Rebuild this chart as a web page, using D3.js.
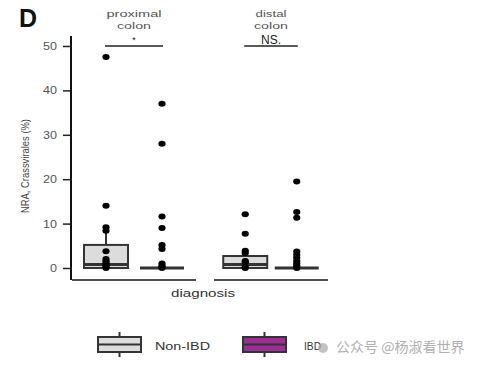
<!DOCTYPE html>
<html><head><meta charset="utf-8">
<script src="https://cdn.jsdelivr.net/npm/d3@7"></script>
<style>body{margin:0;background:#fff}svg{display:block}text{font-family:"Liberation Sans",Arial,sans-serif}</style>
</head><body>
<svg id="c" width="480" height="366"></svg>
<script>
const facets = ["proximal colon", "distal colon"];
const diagnoses = ["Non-IBD", "IBD"];
const sigLabels = ["*", "NS."];
const yTicks = [0, 10, 20, 30, 40, 50];
// box stats per facet, order: [Non-IBD, IBD]
const proxQ1 = [0, 0], proxMed = [0.8, 0], proxQ3 = [5.2, 0], proxWhisk = [8.4, 0];
const distQ1 = [0, 0], distMed = [0.8, 0], distQ3 = [2.7, 0], distWhisk = [3.9, 0];
// points
const proxNonIBD = [47.5, 14, 9.2, 8.4, 3.8, 2.0, 1.5, 1.1, 0.6, 0.3, 0];
const proxIBD = [37, 28, 11.6, 9, 5.2, 4.3, 1.0, 0.5, 0.2, 0];
const distNonIBD = [12.1, 7.7, 3.9, 3.4, 1.6, 1.3, 0.2, 0];
const distIBD = [19.5, 12.6, 11.3, 3.7, 3.0, 2.3, 1.6, 1.0, 0.5, 0];

const colors = {"Non-IBD": "#dcdcdc", "IBD": "#9b2f96"};
const stroke = "#333";

const svg = d3.select("#c");
const y = d3.scaleLinear().domain([0, 50]).range([268, 46]);
const panelX = d3.scaleOrdinal().domain(facets).range([[72, 196], [214, 328]]);
const inner = f => d3.scalePoint().domain(diagnoses).range(panelX(f)).padding(0.607);

const stats = {
  "proximal colon": {q1: proxQ1, med: proxMed, q3: proxQ3, wh: proxWhisk, pts: [proxNonIBD, proxIBD]},
  "distal colon": {q1: distQ1, med: distMed, q3: distQ3, wh: distWhisk, pts: [distNonIBD, distIBD]}
};
const facetLabelWidths = {"proximal": 55, "distal": 31, "colon": 34};

// Title
svg.append("text").attr("x", 19).attr("y", 27).attr("font-size", 25).attr("font-weight", "bold").attr("fill", "#111").text("D");

// y axis
const yAxis = svg.append("g").attr("transform", "translate(71,0)")
  .call(d3.axisLeft(y).tickValues(yTicks).tickSize(8).tickPadding(6).tickSizeOuter(0));
yAxis.select(".domain").remove();
yAxis.selectAll(".tick line").attr("stroke", "#222").attr("stroke-width", 1.5);
yAxis.selectAll(".tick text").attr("font-size", 11).attr("fill", "#555")
  .attr("font-family", "Liberation Sans, Arial, sans-serif")
  .attr("textLength", d => d === 0 ? 7 : 14).attr("lengthAdjust", "spacingAndGlyphs");
svg.append("line").attr("x1", 71).attr("x2", 71).attr("y1", 36).attr("y2", 280).attr("stroke", "#111").attr("stroke-width", 2);

svg.append("text").attr("transform", "translate(29,166) rotate(-90)").attr("text-anchor", "middle")
  .attr("font-size", 10.5).attr("fill", "#444").attr("textLength", 94).attr("lengthAdjust", "spacingAndGlyphs")
  .style("font-family", "'Liberation Sans Narrow','Arial Narrow',sans-serif")
  .text("NRA, Crassvirales (%)");

facets.forEach((f, fi) => {
  const [x0, x1] = panelX(f);
  const xi = inner(f);
  const s = stats[f];
  // x axis line
  svg.append("line").attr("x1", x0).attr("x2", x1).attr("y1", 280).attr("y2", 280).attr("stroke", "#111").attr("stroke-width", 1.6);
  // facet label
  const a = xi(diagnoses[0]), b = xi(diagnoses[1]);
  const cx = (a + b) / 2;
  f.split(" ").forEach((w, wi) => {
    svg.append("text").attr("x", cx).attr("y", 17 + wi * 11.5).attr("text-anchor", "middle")
      .attr("font-size", 9.5).attr("fill", "#555")
      .attr("textLength", facetLabelWidths[w]).attr("lengthAdjust", "spacingAndGlyphs").text(w);
  });
  // significance
  svg.append("line").attr("x1", a - 1).attr("x2", b + 1).attr("y1", y(50)).attr("y2", y(50)).attr("stroke", "#222").attr("stroke-width", 1.5);
  svg.append("text").attr("x", cx).attr("y", fi === 0 ? y(50) - 3 : y(50) - 2).attr("text-anchor", "middle")
    .attr("font-size", fi === 0 ? 9 : 12).attr("fill", "#222").text(sigLabels[fi]);

  diagnoses.forEach((d, di) => {
    const cxb = xi(d), w = 44;
    svg.append("line").attr("x1", cxb).attr("x2", cxb).attr("y1", y(s.q3[di])).attr("y2", y(s.wh[di]))
      .attr("stroke", stroke).attr("stroke-width", 2);
    svg.append("rect").attr("x", cxb - w / 2).attr("width", w)
      .attr("y", y(s.q3[di])).attr("height", Math.max(0, y(s.q1[di]) - y(s.q3[di])))
      .attr("fill", colors[d]).attr("stroke", stroke).attr("stroke-width", 2);
    svg.append("line").attr("x1", cxb - w / 2).attr("x2", cxb + w / 2).attr("y1", y(s.med[di])).attr("y2", y(s.med[di]))
      .attr("stroke", stroke).attr("stroke-width", 3);
    svg.selectAll(null).data(s.pts[di]).enter().append("ellipse")
      .attr("cx", cxb).attr("cy", v => y(v)).attr("rx", 3.6).attr("ry", 3).attr("fill", "#000");
  });
});

svg.append("text").attr("x", 203).attr("y", 297).attr("text-anchor", "middle").attr("font-size", 11)
  .attr("fill", "#333").attr("textLength", 64).attr("lengthAdjust", "spacingAndGlyphs").text("diagnosis");

// legend
const legX = [98, 243], legLabX = [155, 304];
diagnoses.forEach((d, i) => {
  const g = svg.append("g");
  const x0 = legX[i], w = 43, cxl = x0 + w / 2;
  g.append("line").attr("x1", cxl).attr("x2", cxl).attr("y1", 332).attr("y2", 357).attr("stroke", stroke).attr("stroke-width", 2);
  g.append("rect").attr("x", x0).attr("y", 337).attr("width", w).attr("height", 15).attr("fill", colors[d]).attr("stroke", stroke).attr("stroke-width", 2);
  g.append("line").attr("x1", x0).attr("x2", x0 + w).attr("y1", 344.5).attr("y2", 344.5).attr("stroke", stroke).attr("stroke-width", 2);
  g.append("text").attr("x", legLabX[i]).attr("y", 350).attr("font-size", 10.5).attr("fill", "#333")
    .attr("textLength", d === "IBD" ? 17 : 55).attr("lengthAdjust", "spacingAndGlyphs").text(d);
});

// watermark
svg.append("circle").attr("cx", 323).attr("cy", 348).attr("r", 5).attr("fill", "#aaa").attr("opacity", 0.7);
svg.append("text").attr("x", 336).attr("y", 352).attr("font-size", 14).attr("fill", "#b0b0b0")
  .style("font-family", "'Noto Sans CJK SC',sans-serif").text("公众号 @杨淑看世界");
</script>
</body></html>
